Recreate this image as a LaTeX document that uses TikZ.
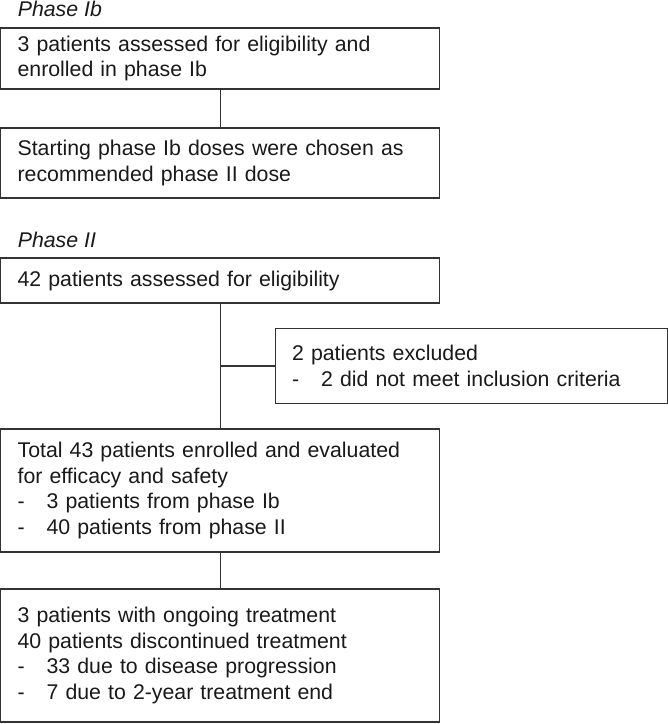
\documentclass[tikz,border=0pt]{standalone}
\usepackage{fontspec}
\setmainfont{Liberation Sans}
\usetikzlibrary{positioning}

\newcommand{\dashitem}[1]{\makebox[29pt][l]{-}#1}

\begin{document}
\begin{tikzpicture}[x=1pt, y=1pt,
    stage/.style={rectangle, draw=black!80, line width=1.1pt, anchor=north west,
        text width=405pt, inner xsep=17pt, inner ysep=0pt, outer sep=0pt, align=left,
        font=\fontsize{21.3}{25.7}\selectfont, text=black!90},
    phase/.style={inner sep=0pt, font=\fontsize{21.3}{25.7}\selectfont\itshape, text=black!90},
    link/.style={draw=black!80, line width=1.1pt},
    every node/.style={node distance=39pt}
    ]
    \useasboundingbox (0,0) rectangle (668,-724);

    % phase Ib
    \node[stage, minimum height=61pt] (ib) at (0.6,-28)
        {3 patients assessed for eligibility and\\enrolled in phase Ib};
    \node[stage, minimum height=70pt, below=of ib] (dose)
        {Starting phase Ib doses were chosen as\\recommended phase II dose};
    \node[phase, above right=11.5pt and 17pt of ib.north west, anchor=base west] (tib) {Phase Ib};

    % phase II
    \node[stage, minimum height=45pt, below=60pt of dose] (elig)
        {42 patients assessed for eligibility};
    \node[phase, above right=11pt and 17pt of elig.north west, anchor=base west] (tii) {Phase II};
    \node[stage, minimum height=123pt, below=126pt of elig] (total)
        {Total 43 patients enrolled and evaluated\\for efficacy and safety\\
         \dashitem{3 patients from phase Ib}\\\dashitem{40 patients from phase II}};
    \node[stage, minimum height=133pt, below=37pt of total] (disc)
        {3 patients with ongoing treatment\\40 patients discontinued treatment\\
         \dashitem{33 due to disease progression}\\\dashitem{7 due to 2-year treatment end}};

    % exclusion branch
    \path (elig.south) -- (total.north) coordinate[pos=0.5] (split);
    \node[stage, text width=358pt, minimum height=75pt, right=55pt of split, anchor=west] (excl)
        {2 patients excluded\\\dashitem{2 did not meet inclusion criteria}};

    \path[link] (ib) -- (dose);
    \path[link] (elig) -- (total);
    \path[link] (total) -- (disc);
    \path[link] (split) -- (excl);
\end{tikzpicture}
\end{document}
